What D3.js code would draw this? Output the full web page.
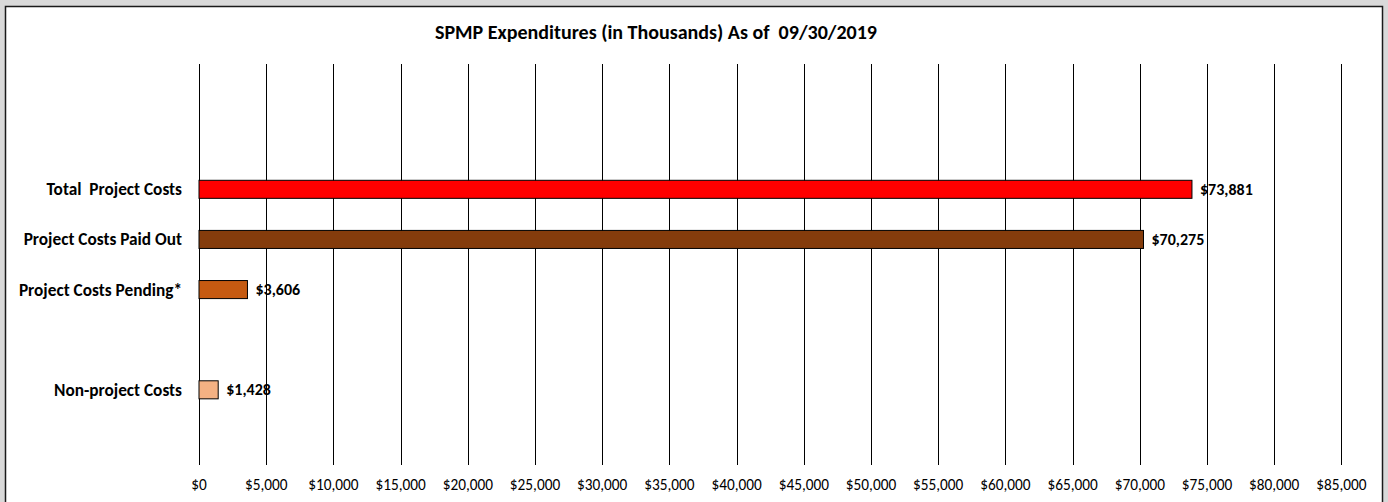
<!DOCTYPE html>
<html>
<head>
<meta charset="utf-8">
<script src="https://cdn.jsdelivr.net/npm/d3@7"></script>
<style>
  body { margin: 0; background: #d9d9d9; }
  svg { display: block; }
</style>
</head>
<body>
<div id="vis"><svg></svg></div>
<script>
// data (blank slots keep the empty rows the original chart has)
const categories = ["_b1", "_b2", "Total  Project Costs", "Project Costs Paid Out", "Project Costs Pending*", "_b3", "Non-project Costs", "_b4"];
const values = [null, null, 73881, 70275, 3606, null, 1428, null];
const barColors = [null, null, "#ff0000", "#843c0c", "#c55a11", null, "#f4b183", null];
const tickValues = [0, 5000, 10000, 15000, 20000, 25000, 30000, 35000, 40000, 45000, 50000, 55000, 60000, 65000, 70000, 75000, 80000, 85000];
const title = "SPMP Expenditures (in Thousands) As of  09/30/2019";

const W = 1388, H = 502;
const margin = {top: 64, right: 46, bottom: 37, left: 199};
const font = "Carlito, Calibri, 'Liberation Sans', Arial, sans-serif";

const svg = d3.select("#vis").select("svg")
  .attr("width", W)
  .attr("height", H);

// chart frame
svg.append("rect")
  .attr("x", 5.5).attr("y", 6.5)
  .attr("width", 1377).attr("height", 510)
  .attr("fill", "#fff")
  .attr("stroke", "#1a1a1a")
  .attr("stroke-width", 1.5);

svg.append("text")
  .attr("x", 656)
  .attr("y", 39)
  .attr("text-anchor", "middle")
  .attr("font-family", font)
  .attr("font-weight", "bold")
  .attr("font-size", "20px")
  .attr("fill", "#000")
  .attr("textLength", 442)
  .attr("lengthAdjust", "spacingAndGlyphs")
  .style("white-space", "pre")
  .text(title);

const x = d3.scaleLinear()
  .domain([0, 85000])
  .range([margin.left, margin.left + 17 * 67.2]);

const y = d3.scaleBand()
  .domain(categories)
  .range([margin.top, H - margin.bottom])
  .paddingInner(0.64)
  .paddingOuter(0.32);

// vertical gridlines
svg.append("g")
  .selectAll("line")
  .data(tickValues)
  .join("line")
  .attr("x1", d => Math.round(x(d)) + 0.5)
  .attr("x2", d => Math.round(x(d)) + 0.5)
  .attr("y1", margin.top)
  .attr("y2", H - margin.bottom)
  .attr("stroke", "#000")
  .attr("stroke-width", 1);

// x tick labels
const fmt = d3.format("$,");
svg.append("g")
  .selectAll("text")
  .data(tickValues)
  .join("text")
  .attr("x", d => x(d))
  .attr("y", 490)
  .attr("text-anchor", "middle")
  .attr("font-family", font)
  .attr("font-size", "15.3px")
  .attr("fill", "#000")
  .text(d => fmt(d));

const rows = categories.map((c, i) => ({name: c, value: values[i], color: barColors[i]}))
  .filter(d => d.value !== null);

// category labels
svg.append("g")
  .selectAll("text")
  .data(rows)
  .join("text")
  .attr("x", 182)
  .attr("y", d => y(d.name) + y.bandwidth() / 2)
  .attr("dy", "0.35em")
  .attr("text-anchor", "end")
  .attr("font-family", font)
  .attr("font-weight", "bold")
  .attr("font-size", "17.3px")
  .attr("fill", "#000")
  .style("white-space", "pre")
  .text(d => d.name);

// bars
svg.append("g")
  .selectAll("rect")
  .data(rows)
  .join("rect")
  .attr("x", x(0))
  .attr("y", d => y(d.name))
  .attr("width", d => x(d.value) - x(0))
  .attr("height", y.bandwidth())
  .attr("fill", d => d.color)
  .attr("stroke", "#000")
  .attr("stroke-width", 1);

// value labels
svg.append("g")
  .selectAll("text")
  .data(rows)
  .join("text")
  .attr("x", d => x(d.value) + 8)
  .attr("y", d => y(d.name) + y.bandwidth() / 2)
  .attr("dy", "0.35em")
  .attr("font-family", font)
  .attr("font-weight", "bold")
  .attr("font-size", "16px")
  .attr("fill", "#000")
  .text(d => fmt(d.value));
</script>
</body>
</html>
